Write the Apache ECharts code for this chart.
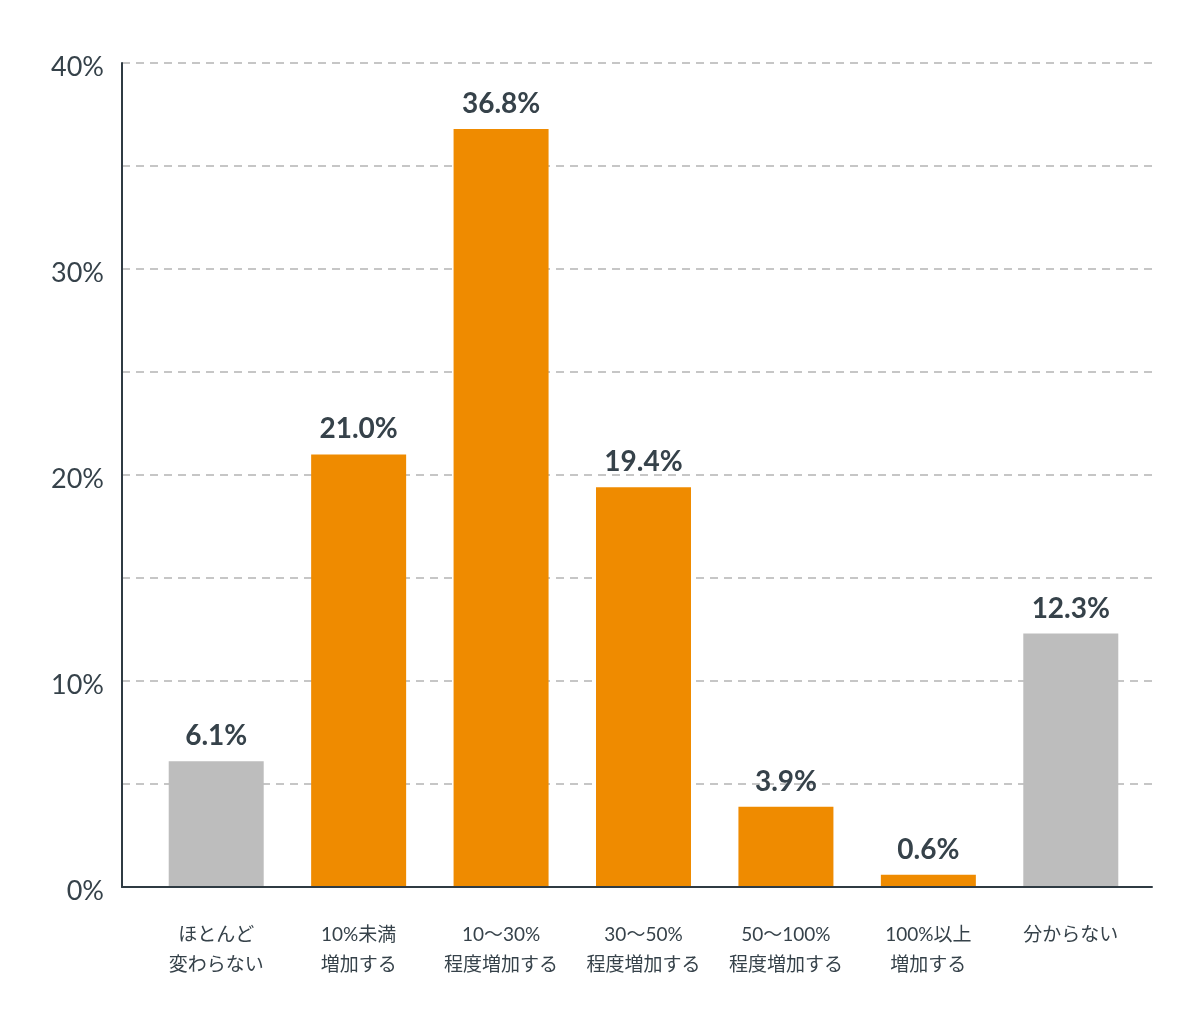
<!DOCTYPE html>
<html>
<head>
<meta charset="utf-8">
<script src="https://cdn.jsdelivr.net/npm/echarts@6/dist/echarts.min.js"></script>
<style>
  html, body { margin: 0; padding: 0; background: #fff; }
  #chart { width: 1200px; height: 1034px; }
</style>
</head>
<body>
<div id="chart"></div>
<script>
const categories = [
    'ほとんど\n変わらない',
    '10%未満\n増加する',
    '10〜30%\n程度増加する',
    '30〜50%\n程度増加する',
    '50〜100%\n程度増加する',
    '100%以上\n増加する',
    '分からない'
];
const values = [6.1, 21.0, 36.8, 19.4, 3.9, 0.6, 12.3];
const isIncrease = [false, true, true, true, true, true, false];
const yTicks = [0, 10, 20, 30, 40];

const ORANGE = '#ef8b00';
const GRAY = '#bdbdbd';
const TEXT = '#36424a';
const AXIS = '#2f3b43';

var dom = document.getElementById('chart');
var myChart = echarts.init(dom, null, { renderer: 'canvas' });

const option = {
    animation: false,
    textStyle: {
        fontFamily: 'Lato, "Noto Sans CJK JP", sans-serif'
    },
    grid: [
        // cadre : lignes d'axe + grille pointillée
        { left: 122, right: 48, top: 63, bottom: 147 },
        // barres
        { left: 145, right: 58, top: 63, bottom: 147 }
    ],
    xAxis: [
        {
            gridIndex: 0,
            type: 'category',
            data: [''],
            z: 5,
            axisLine: { lineStyle: { color: AXIS, width: 2 } },
            axisTick: { show: false },
            axisLabel: { show: false }
        },
        {
            gridIndex: 1,
            type: 'category',
            data: categories,
            axisLine: { show: false },
            axisTick: { show: false },
            axisLabel: {
                interval: 0,
                margin: 33,
                color: TEXT,
                fontSize: 19,
                lineHeight: 30,
                fontFamily: 'Lato, "Noto Sans CJK JP", sans-serif'
            }
        }
    ],
    yAxis: [
        {
            gridIndex: 0,
            type: 'value',
            min: 0,
            max: 40,
            interval: 5,
            axisLine: { show: true, lineStyle: { color: AXIS, width: 2 } },
            axisTick: { show: false },
            axisLabel: {
                margin: 18,
                formatter: function (v) {
                    return yTicks.indexOf(v) >= 0 ? '{t|' + v + '%}' : '';
                },
                rich: {
                    t: {
                        color: TEXT,
                        fontSize: 27,
                        fontFamily: 'Lato, sans-serif',
                        padding: [9, 0, 0, 0]
                    }
                }
            },
            splitLine: {
                lineStyle: { color: '#b4b4b4', type: [8, 6], width: 1.5 }
            }
        },
        {
            gridIndex: 1,
            type: 'value',
            min: 0,
            max: 40,
            show: false
        }
    ],
    series: [
        {
            type: 'bar',
            xAxisIndex: 1,
            yAxisIndex: 1,
            barWidth: 95,
            data: values.map(function (v, i) {
                return { value: v, itemStyle: { color: isIncrease[i] ? ORANGE : GRAY } };
            }),
            label: {
                show: true,
                position: 'top',
                distance: 11,
                color: TEXT,
                fontSize: 28,
                fontWeight: 'bold',
                formatter: function (p) { return p.value.toFixed(1) + '%'; }
            }
        }
    ]
};

myChart.setOption(option);
window.addEventListener('resize', myChart.resize);
</script>
</body>
</html>
